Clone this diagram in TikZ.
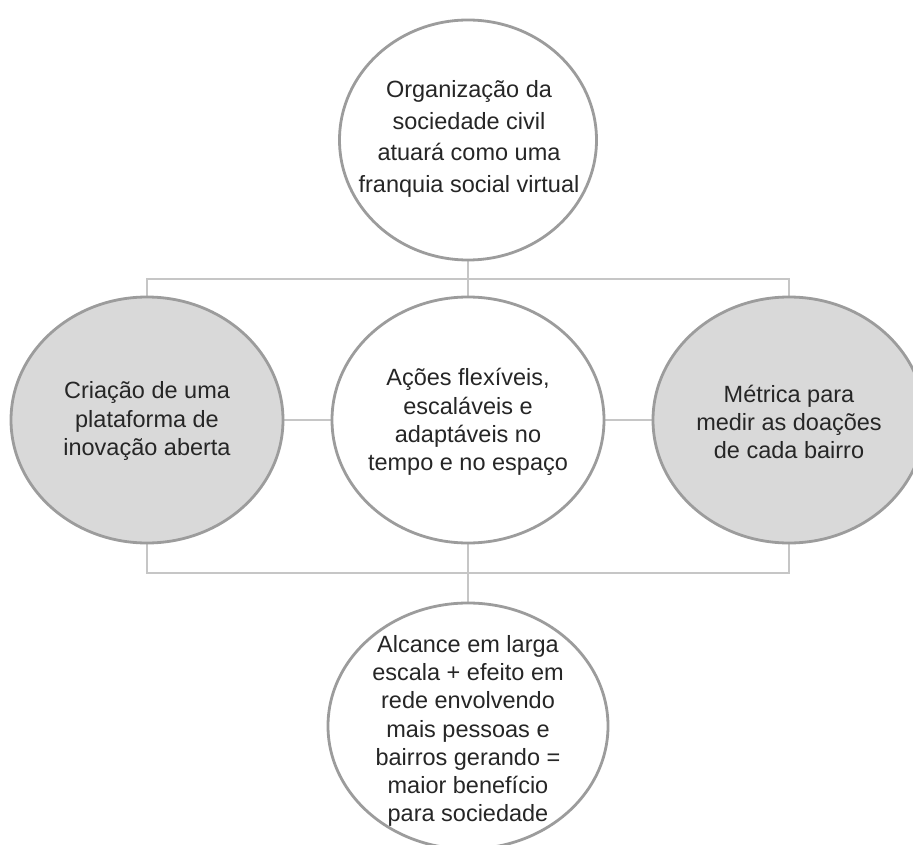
\documentclass[tikz,border=0pt]{standalone}
\usepackage{fontspec}
\setmainfont{Liberation Sans}
\usetikzlibrary{shapes.geometric,backgrounds}
\definecolor{ringgray}{HTML}{9C9C9C}
\definecolor{fillgray}{HTML}{D9D9D9}
\definecolor{linkgray}{HTML}{C6C6C6}
\definecolor{txtgray}{HTML}{262626}
\tikzset{
  bubble/.style={ellipse, draw=ringgray, line width=2.8pt, inner sep=0pt,
    minimum width=272pt, minimum height=246pt, fill=white},
  graybubble/.style={bubble, fill=fillgray},
  txt/.style={align=center, text=txtgray, inner sep=0pt,
    font=\fontsize{23.5}{28.3}\selectfont},
  toptxt/.style={txt, font=\fontsize{23.5}{31.7}\selectfont},
  link/.style={draw=linkgray, line width=1.5pt}
}
\begin{document}
\begin{tikzpicture}[x=1pt, y=-1pt]
\useasboundingbox (0,0) rectangle (913,845);
% bus coordinates
\coordinate (tbus) at (468,279);
\coordinate (bbus) at (468,573);
% bubbles
\node[bubble, minimum width=257pt, minimum height=240pt] (top) at (468,140) {};
\node[graybubble] (left) at (147,420) {};
\node[bubble] (mid) at (468,420) {};
\node[graybubble] (right) at (789,420) {};
\node[bubble, minimum width=280pt] (bot) at (468,726) {};
% texts
\node[toptxt] (toptext) at (469,139) {Organização da\\sociedade civil\\atuará como uma\\franquia social virtual};
\node[txt] (lefttext) at (147,421) {Criação de uma\\plataforma de\\inovação aberta};
\node[txt] (midtext) at (468,422) {Ações flexíveis,\\escaláveis e\\adaptáveis no\\tempo e no espaço};
\node[txt] (righttext) at (789,422) {Métrica para\\medir as doações\\de cada bairro};
\node[txt] (bottext) at (468,731) {Alcance em larga\\escala + efeito em\\rede envolvendo\\mais pessoas e\\bairros gerando =\\maior benefício\\para sociedade};
% connectors behind the bubbles
\begin{scope}[on background layer]
\fill[white] (0,0) rectangle (913,845);
\draw[link] (top.south) -- (mid.north);
\draw[link] (left.north) |- (tbus) -| (right.north);
\draw[link] (left.south) |- (bbus) -| (right.south);
\draw[link] (mid.south) -- (bot.north);
\draw[link] (left.east) -- (mid.west);
\draw[link] (mid.east) -- (right.west);
\end{scope}
\end{tikzpicture}
\end{document}
